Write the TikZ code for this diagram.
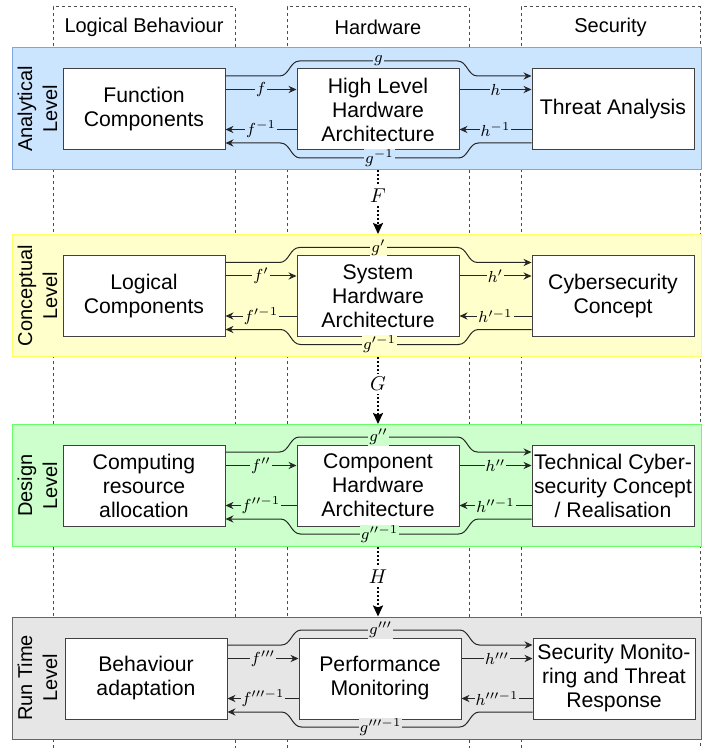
\documentclass[tikz,border=0pt]{standalone}
\usepackage{fontspec}
\setsansfont{Liberation Sans}
\usetikzlibrary{positioning, arrows.meta, calc}

\definecolor{anafill}{HTML}{CCE5FF}
\definecolor{anaedge}{HTML}{7EA6E0}
\definecolor{confill}{HTML}{FFFFCC}
\definecolor{conedge}{HTML}{FFFF66}
\definecolor{desfill}{HTML}{CCFFCC}
\definecolor{desedge}{HTML}{66FF66}
\definecolor{runfill}{HTML}{E6E6E6}
\definecolor{runedge}{HTML}{666666}

\begin{document}
\begin{tikzpicture}[x=0.5pt, y=-0.5pt, node distance=35.5pt,
	box/.style={draw=black!75, fill=white, line width=0.5pt, minimum width=81pt, minimum height=40.5pt, inner sep=1pt, align=center, font=\sffamily\fontsize{10.6}{12}\selectfont},
	panel/.style={line width=0.5pt, minimum width=344.5pt, minimum height=61pt, inner sep=0pt},
	side/.style={rotate=90, align=center, inner sep=0pt, font=\sffamily\fontsize{10}{12.5}\selectfont},
	hdr/.style={inner sep=0pt, font=\sffamily\fontsize{10}{12}\selectfont},
	col/.style={draw=black!70, line width=0.5pt, dash pattern=on 1.5pt off 1.5pt},
	conn/.style={draw=black!85, line width=0.5pt, -{Stealth[length=4pt,width=3.6pt,inset=1.3pt]}},
	lbl/.style={fill=#1, inner sep=0.5pt, font=\fontsize{8.5}{9}\selectfont},
	refine/.style={line width=1pt, densely dotted, -{Stealth[length=5.5pt,width=5pt,inset=1pt]}}]
			\useasboundingbox (0,0) rectangle (701,748);
			% columns
			\draw[col] (53,748) -- (53,7) -- (235,7) -- (235,748);
			\draw[col] (287,748) -- (287,7) -- (469,7) -- (469,748);
			\draw[col] (521,748) -- (521,7) -- (700,7) -- (700,748);
			\node[hdr] (lbh) at (144,27) {Logical Behaviour};
			\node[hdr] (hwh) at (378,27) {Hardware};
			\node[hdr] (sech) at (610.5,27) {Security};

			% analytical level
			\node[panel, fill=anafill, draw=anaedge] (p1) at (356.5,109) {};
			\node[side] (al) at ([xshift=13pt]p1.west) {Analytical\\Level};
			\node[box] (hw1) at (378,109.5) {High Level\\Hardware\\Architecture};
			\node[box, left=of hw1] (fc) {Function\\Components};
			\node[box, right=36pt of hw1] (ta) {Threat Analysis};
			\draw[conn] ([yshift=10pt]fc.east) -- node[lbl=anafill]{$f$} ([yshift=10pt]hw1.west);
			\draw[conn] ([yshift=-10pt]hw1.west) -- node[lbl=anafill]{$f^{-1}$} ([yshift=-10pt]fc.east);
			\draw[conn] ([yshift=10pt]hw1.east) -- node[lbl=anafill]{$h$} ([yshift=10pt]ta.west);
			\draw[conn] ([yshift=-10pt]ta.west) -- node[lbl=anafill]{$h^{-1}$} ([yshift=-10pt]hw1.east);
			\draw[conn] ([yshift=16.75pt]fc.east) -- ++(54,0) to[out=0,in=180] ++(20,-15) -- node[lbl=anafill]{$g$} ++(158,0) to[out=0,in=180] ++(20,15) -- ([yshift=16.75pt]ta.west);
			\draw[conn] ([yshift=-16.75pt]ta.west) -- ++(-53,0) to[out=180,in=0] ++(-20,15) -- node[lbl=anafill]{$g^{-1}$} ++(-158,0) to[out=180,in=0] ++(-20,-15) -- ([yshift=-16.75pt]fc.east);

			% conceptual level
			\node[panel, fill=confill, draw=conedge] (p2) at (356.5,295.5) {};
			\node[side] (cl) at ([xshift=13pt]p2.west) {Conceptual\\Level};
			\node[box] (hw2) at (378,296) {System\\Hardware\\Architecture};
			\node[box, left=of hw2] (lc) {Logical\\Components};
			\node[box, right=36pt of hw2] (cc) {Cybersecurity\\Concept};
			\draw[conn] ([yshift=10pt]lc.east) -- node[lbl=confill]{$f'$} ([yshift=10pt]hw2.west);
			\draw[conn] ([yshift=-10pt]hw2.west) -- node[lbl=confill]{$f^{\prime -1}$} ([yshift=-10pt]lc.east);
			\draw[conn] ([yshift=10pt]hw2.east) -- node[lbl=confill]{$h'$} ([yshift=10pt]cc.west);
			\draw[conn] ([yshift=-10pt]cc.west) -- node[lbl=confill]{$h^{\prime -1}$} ([yshift=-10pt]hw2.east);
			\draw[conn] ([yshift=16.75pt]lc.east) -- ++(54,0) to[out=0,in=180] ++(20,-15) -- node[lbl=confill]{$g'$} ++(158,0) to[out=0,in=180] ++(20,15) -- ([yshift=16.75pt]cc.west);
			\draw[conn] ([yshift=-16.75pt]cc.west) -- ++(-53,0) to[out=180,in=0] ++(-20,15) -- node[lbl=confill]{$g^{\prime -1}$} ++(-158,0) to[out=180,in=0] ++(-20,-15) -- ([yshift=-16.75pt]lc.east);

			% design level
			\node[panel, fill=desfill, draw=desedge] (p3) at (356.5,485.5) {};
			\node[side] (dl) at ([xshift=13pt]p3.west) {Design\\Level};
			\node[box] (hw3) at (378,485.5) {Component\\Hardware\\Architecture};
			\node[box, left=of hw3] (cra) {Computing\\resource\\allocation};
			\node[box, right=36pt of hw3] (tcc) {Technical Cyber-\\security Concept\\/ Realisation};
			\draw[conn] ([yshift=10pt]cra.east) -- node[lbl=desfill]{$f''$} ([yshift=10pt]hw3.west);
			\draw[conn] ([yshift=-10pt]hw3.west) -- node[lbl=desfill]{$f^{\prime\prime -1}$} ([yshift=-10pt]cra.east);
			\draw[conn] ([yshift=10pt]hw3.east) -- node[lbl=desfill]{$h''$} ([yshift=10pt]tcc.west);
			\draw[conn] ([yshift=-10pt]tcc.west) -- node[lbl=desfill]{$h^{\prime\prime -1}$} ([yshift=-10pt]hw3.east);
			\draw[conn] ([yshift=16.75pt]cra.east) -- ++(54,0) to[out=0,in=180] ++(20,-15) -- node[lbl=desfill]{$g''$} ++(158,0) to[out=0,in=180] ++(20,15) -- ([yshift=16.75pt]tcc.west);
			\draw[conn] ([yshift=-16.75pt]tcc.west) -- ++(-53,0) to[out=180,in=0] ++(-20,15) -- node[lbl=desfill]{$g^{\prime\prime -1}$} ++(-158,0) to[out=180,in=0] ++(-20,-15) -- ([yshift=-16.75pt]cra.east);

			% run time level
			\node[panel, fill=runfill, draw=runedge] (p4) at (356.5,678) {};
			\node[side] (rl) at ([xshift=13pt]p4.west) {Run Time\\Level};
			\node[box] (hw4) at (380,678.5) {Performance\\Monitoring};
			\node[box, left=of hw4] (ba) {Behaviour\\adaptation};
			\node[box, right=of hw4] (smt) {Security Monito-\\ring and Threat\\Response};
			\draw[conn] ([yshift=10pt]ba.east) -- node[lbl=runfill]{$f'''$} ([yshift=10pt]hw4.west);
			\draw[conn] ([yshift=-10pt]hw4.west) -- node[lbl=runfill]{$f^{\prime\prime\prime -1}$} ([yshift=-10pt]ba.east);
			\draw[conn] ([yshift=10pt]hw4.east) -- node[lbl=runfill]{$h'''$} ([yshift=10pt]smt.west);
			\draw[conn] ([yshift=-10pt]smt.west) -- node[lbl=runfill]{$h^{\prime\prime\prime -1}$} ([yshift=-10pt]hw4.east);
			\draw[conn] ([yshift=16.75pt]ba.east) -- ++(54,0) to[out=0,in=180] ++(20,-15) -- node[lbl=runfill]{$g'''$} ++(158,0) to[out=0,in=180] ++(20,15) -- ([yshift=16.75pt]smt.west);
			\draw[conn] ([yshift=-16.75pt]smt.west) -- ++(-53,0) to[out=180,in=0] ++(-20,15) -- node[lbl=runfill]{$g^{\prime\prime\prime -1}$} ++(-158,0) to[out=180,in=0] ++(-20,-15) -- ([yshift=-16.75pt]ba.east);

			% refinement between levels
			\draw[refine] (p1.south -| hw1) -- node[pos=0.4, fill=white, inner sep=1.5pt, font=\fontsize{10}{11}\selectfont]{$F$} (p2.north -| hw1);
			\draw[refine] (p2.south -| hw2) -- node[pos=0.4, fill=white, inner sep=1.5pt, font=\fontsize{10}{11}\selectfont]{$G$} (p3.north -| hw2);
			\draw[refine] (p3.south -| hw3) -- node[pos=0.42, fill=white, inner sep=1.5pt, font=\fontsize{10}{11}\selectfont]{$H$} (p4.north -| hw3);
		\end{tikzpicture}
\end{document}
